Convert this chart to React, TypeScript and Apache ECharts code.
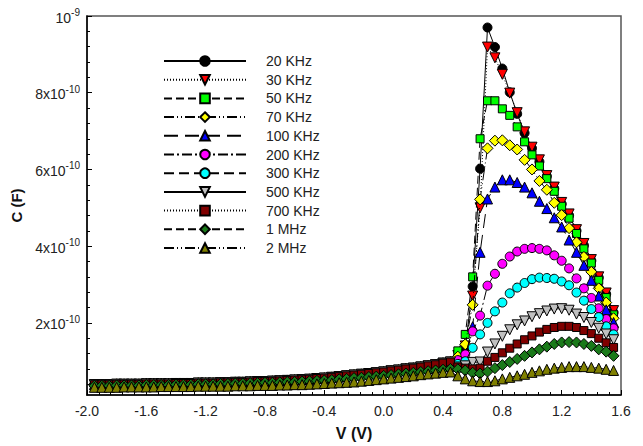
import React, { useEffect, useRef } from "react";
import * as echarts from "echarts";

// Bias voltage (V)
const voltages = [
  -1.95, -1.9, -1.85, -1.8, -1.75, -1.7, -1.65, -1.6, -1.55, -1.5,
  -1.45, -1.4, -1.35, -1.3, -1.25, -1.2, -1.15, -1.1, -1.05, -1.0,
  -0.95, -0.9, -0.85, -0.8, -0.75, -0.7, -0.65, -0.6, -0.55, -0.5,
  -0.45, -0.4, -0.35, -0.3, -0.25, -0.2, -0.15, -0.1, -0.05, 0.0,
  0.05, 0.1, 0.15, 0.2, 0.25, 0.3, 0.35, 0.4, 0.45,
  0.5, 0.55, 0.6, 0.65, 0.7, 0.75, 0.8, 0.85, 0.9, 0.95,
  1.0, 1.05, 1.1, 1.15, 1.2, 1.25, 1.3, 1.35, 1.4, 1.45, 1.5, 1.55,
];

// Capacitance in units of 1e-10 F, low-bias part (-1.95 .. 0.45 V)
const lowCluster = [
  0.39, 0.39, 0.39, 0.40, 0.40, 0.40, 0.40, 0.41, 0.41, 0.41,
  0.41, 0.42, 0.42, 0.42, 0.43, 0.43, 0.43, 0.44, 0.44, 0.45,
  0.45, 0.46, 0.47, 0.47, 0.48, 0.49, 0.50, 0.51, 0.52, 0.53,
  0.55, 0.56, 0.58, 0.60, 0.62, 0.64, 0.66, 0.68, 0.70, 0.72,
  0.75, 0.77, 0.80, 0.82, 0.85, 0.88, 0.91, 0.95, 0.98,
];
const low1M = [
  0.36, 0.36, 0.36, 0.37, 0.37, 0.37, 0.37, 0.38, 0.38, 0.38,
  0.38, 0.39, 0.39, 0.39, 0.40, 0.40, 0.40, 0.41, 0.41, 0.42,
  0.42, 0.43, 0.43, 0.44, 0.44, 0.45, 0.46, 0.46, 0.47, 0.48,
  0.49, 0.50, 0.51, 0.53, 0.54, 0.56, 0.57, 0.59, 0.60, 0.62,
  0.64, 0.66, 0.68, 0.70, 0.72, 0.74, 0.76, 0.78, 0.80,
];
const low2M = [
  0.32, 0.32, 0.32, 0.32, 0.33, 0.33, 0.33, 0.33, 0.33, 0.34,
  0.34, 0.34, 0.34, 0.34, 0.35, 0.35, 0.35, 0.35, 0.35, 0.36,
  0.36, 0.36, 0.37, 0.37, 0.37, 0.38, 0.38, 0.39, 0.39, 0.40,
  0.41, 0.42, 0.43, 0.44, 0.45, 0.46, 0.48, 0.50, 0.52, 0.54,
  0.56, 0.58, 0.60, 0.62, 0.65, 0.67, 0.69, 0.71, 0.72,
];

// High-bias part (0.50 .. 1.55 V)
const high20k = [1.10, 1.35, 2.95, 6.02, 9.70, 9.19, 8.63, 8.01, 7.45, 6.95, 6.55, 6.20, 5.82, 5.50, 5.10, 4.80, 4.40, 4.02, 3.62, 3.18, 2.75, 2.27];
const high30k = [1.15, 1.40, 2.70, 5.00, 9.19, 8.91, 8.48, 7.99, 7.48, 6.98, 6.58, 6.25, 5.84, 5.54, 5.14, 4.84, 4.43, 4.07, 3.65, 3.20, 2.78, 2.32];
const high50k = [1.27, 1.70, 3.20, 6.80, 7.79, 7.79, 7.58, 7.41, 7.11, 6.72, 6.38, 6.09, 5.76, 5.43, 5.04, 4.73, 4.33, 3.93, 3.56, 3.11, 2.66, 2.21];
const high70k = [1.12, 1.44, 2.47, 5.22, 6.55, 6.75, 6.76, 6.63, 6.52, 6.25, 6.00, 5.70, 5.47, 5.13, 4.81, 4.47, 4.10, 3.72, 3.33, 2.90, 2.53, 2.12];
const high100k = [1.00, 1.10, 1.90, 3.84, 5.23, 5.54, 5.73, 5.73, 5.66, 5.54, 5.39, 5.17, 4.98, 4.74, 4.50, 4.16, 3.84, 3.50, 3.11, 2.70, 2.34, 2.01];
const high200k = [1.03, 1.18, 1.78, 2.19, 2.97, 3.28, 3.54, 3.73, 3.86, 3.93, 3.95, 3.93, 3.89, 3.76, 3.62, 3.42, 3.16, 2.90, 2.65, 2.38, 2.10, 1.86];
const high300k = [0.93, 1.00, 1.35, 1.70, 2.00, 2.30, 2.53, 2.77, 2.92, 3.04, 3.14, 3.18, 3.17, 3.15, 3.08, 2.98, 2.79, 2.58, 2.36, 2.15, 1.91, 1.70];
const high500k = [0.85, 0.88, 0.97, 0.98, 1.24, 1.45, 1.65, 1.82, 1.95, 2.05, 2.16, 2.24, 2.31, 2.36, 2.37, 2.33, 2.23, 2.14, 2.01, 1.86, 1.71, 1.56];
const high700k = [0.85, 0.82, 0.80, 0.82, 1.00, 1.10, 1.22, 1.34, 1.45, 1.56, 1.66, 1.76, 1.83, 1.88, 1.91, 1.91, 1.88, 1.80, 1.72, 1.60, 1.48, 1.36];
const high1M = [0.79, 0.76, 0.70, 0.68, 0.73, 0.82, 0.90, 0.98, 1.06, 1.14, 1.23, 1.31, 1.38, 1.45, 1.49, 1.50, 1.49, 1.45, 1.40, 1.31, 1.25, 1.14];
const high2M = [0.62, 0.54, 0.49, 0.47, 0.47, 0.49, 0.54, 0.58, 0.62, 0.66, 0.71, 0.75, 0.79, 0.82, 0.84, 0.86, 0.86, 0.86, 0.84, 0.82, 0.79, 0.76];

const seriesNames = ["20 KHz", "30 KHz", "50 KHz", "70 KHz", "100 KHz", "200 KHz", "300 KHz", "500 KHz", "700 KHz", "1 MHz", "2 MHz"];
const seriesValues = [
  [...lowCluster, ...high20k],
  [...lowCluster, ...high30k],
  [...lowCluster, ...high50k],
  [...lowCluster, ...high70k],
  [...lowCluster, ...high100k],
  [...lowCluster, ...high200k],
  [...lowCluster, ...high300k],
  [...lowCluster, ...high500k],
  [...lowCluster, ...high700k],
  [...low1M, ...high1M],
  [...low2M, ...high2M],
];

const yMajorTicks = [2, 4, 6, 8, 10];
const yMinorTicks = [0.4, 0.8, 1.2, 1.6, 2.4, 2.8, 3.2, 3.6, 4.4, 4.8, 5.2, 5.6, 6.4, 6.8, 7.2, 7.6, 8.4, 8.8, 9.2, 9.6];

const styles = [
  { symbol: "circle", color: "#000000", rotate: 0, size: 9, dash: "solid" },
  { symbol: "triangle", color: "#FF0000", rotate: 180, size: 10, dash: [1, 2] },
  { symbol: "rect", color: "#00FF00", rotate: 0, size: 8, dash: [8, 4] },
  { symbol: "diamond", color: "#FFFF00", rotate: 0, size: 11, dash: [10, 3, 1, 3, 1, 3] },
  { symbol: "triangle", color: "#0000FF", rotate: 0, size: 10, dash: [14, 7] },
  { symbol: "circle", color: "#FF00FF", rotate: 0, size: 9, dash: [10, 3, 2, 3] },
  { symbol: "circle", color: "#00FFFF", rotate: 0, size: 9, dash: [10, 5] },
  { symbol: "triangle", color: "#C0C0C0", rotate: 180, size: 10, dash: "solid" },
  { symbol: "rect", color: "#800000", rotate: 0, size: 8, dash: [1, 2] },
  { symbol: "diamond", color: "#1A7A1A", rotate: 0, size: 11, dash: [8, 4] },
  { symbol: "triangle", color: "#808000", rotate: 0, size: 10, dash: [10, 3, 1, 3, 1, 3] },
];

const FONT = "'Liberation Sans', Arial, sans-serif";

export default function App() {
  const ref = useRef<HTMLDivElement>(null);
  useEffect(() => {
    if (!ref.current) return;
    const chart = echarts.init(ref.current, null, { renderer: "svg" });
    const series = seriesNames.map((name, k) => ({
      name,
      type: "line",
      data: voltages.map((v, i) => [v, seriesValues[k][i]]),
      symbol: styles[k].symbol,
      symbolSize: styles[k].size,
      symbolRotate: styles[k].rotate,
      showSymbol: true,
      lineStyle: { color: "#000", width: 1, type: styles[k].dash },
      itemStyle: { color: styles[k].color, borderColor: "#000", borderWidth: 1 },
      emphasis: { disabled: true },
      z: 2 + k,
    }));
    chart.setOption({
      animation: false,
      grid: { left: 87, right: 22, top: 16, bottom: 47, show: true, borderColor: "#555", borderWidth: 1.5, backgroundColor: "transparent" },
      legend: {
        orient: "vertical",
        left: 163,
        top: 54,
        padding: 0,
        itemWidth: 82,
        itemHeight: 12,
        itemGap: 4.7,
        data: seriesNames,
        textStyle: { fontFamily: FONT, fontSize: 14, color: "#222", lineHeight: 14, padding: [0, 0, 0, 15] },
      },
      xAxis: {
        type: "value",
        min: -2.0,
        max: 1.6,
        interval: 0.4,
        name: "V (V)",
        nameLocation: "middle",
        nameGap: 30,
        nameTextStyle: { fontFamily: FONT, fontSize: 16, fontWeight: "bold", color: "#111" },
        axisLine: { show: true, onZero: false, lineStyle: { color: "#000", width: 1.5 } },
        axisTick: { show: true, inside: true, length: 5, lineStyle: { color: "#000" } },
        minorTick: { show: true, splitNumber: 5, length: 3, lineStyle: { color: "#000" } },
        splitLine: { show: false },
        axisLabel: {
          fontFamily: FONT,
          fontSize: 14,
          color: "#222",
          margin: 9,
          formatter: (v: number) => (Math.abs(v) < 1e-9 ? "0.0" : v.toFixed(1)),
        },
      },
      yAxis: [
        {
          type: "value",
          min: 0.12,
          max: 10,
          name: "C (F)",
          nameLocation: "middle",
          nameRotate: 90,
          nameGap: 58,
          nameTextStyle: { fontFamily: FONT, fontSize: 15, fontWeight: "bold", color: "#111" },
          axisLine: { show: true, onZero: false, lineStyle: { color: "#000", width: 1.5 } },
          axisTick: { show: true, inside: true, length: 5, customValues: yMajorTicks, lineStyle: { color: "#000" } },
          splitLine: { show: false },
          axisLabel: {
            customValues: yMajorTicks,
            margin: 7,
            formatter: (v: number) => (v >= 10 ? "{b|10}{s|-9}" : `{b|${v}x10}{s|-10}`),
            rich: {
              b: { fontFamily: FONT, fontSize: 14, color: "#222", lineHeight: 17, verticalAlign: "bottom" },
              s: { fontFamily: FONT, fontSize: 10, color: "#222", lineHeight: 10, verticalAlign: "top" },
            },
          },
        },
        {
          type: "value",
          min: 0.12,
          max: 10,
          position: "left",
          axisLine: { show: false, onZero: false },
          axisTick: { show: true, inside: true, length: 3, customValues: yMinorTicks, lineStyle: { color: "#000" } },
          axisLabel: { show: false },
          splitLine: { show: false },
        },
      ],
      series,
    });
    return () => chart.dispose();
  }, []);
  return <div ref={ref} style={{ position: "fixed", left: 0, top: 0, width: 643, height: 446, background: "#fff" }} />;
}
